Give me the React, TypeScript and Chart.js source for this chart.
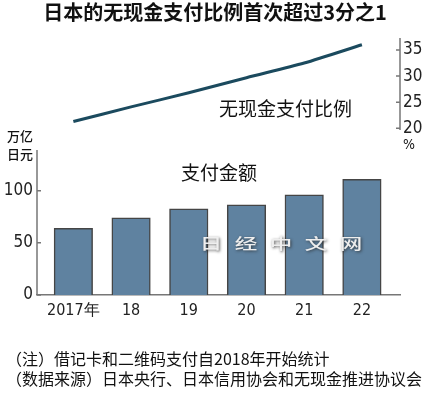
import React, { useEffect, useRef } from "react";
import { Chart, registerables } from "chart.js";

Chart.register(...registerables);

const categories = ["2017年", "18", "19", "20", "21", "22"];
const paymentAmount = [64, 74, 82.5, 86.5, 96, 111];
const cashlessRatio = [21.3, 24.1, 26.8, 29.7, 32.5, 36.0];
const leftTicks = [0, 50, 100];
const rightTicks = [20, 25, 30, 35];

const NARROW = '"Liberation Sans Narrow", "DejaVu Sans Condensed", "Liberation Sans", sans-serif';
const CJK = '"Noto Sans CJK SC", "Noto Sans", sans-serif';

const axisPlugin = {
  id: "customAxes",
  afterDatasetsDraw(chart: any) {
    const { ctx, chartArea } = chart;
    const yb = chart.scales.yBar;
    const yl = chart.scales.yLine;
    ctx.save();
    ctx.strokeStyle = "#777";
    ctx.lineWidth = 1.5;
    const lx = chartArea.left;
    ctx.beginPath();
    ctx.moveTo(lx, yb.getPixelForValue(0));
    ctx.lineTo(lx, yb.getPixelForValue(139));
    leftTicks.forEach((t) => {
      const py = yb.getPixelForValue(t);
      ctx.moveTo(lx, py);
      ctx.lineTo(lx + 4, py);
    });
    ctx.stroke();
    const rx = chartArea.right;
    ctx.beginPath();
    ctx.moveTo(rx, yl.getPixelForValue(19.7));
    ctx.lineTo(rx, yl.getPixelForValue(37.3));
    rightTicks.forEach((t) => {
      const py = yl.getPixelForValue(t);
      ctx.moveTo(rx, py);
      ctx.lineTo(rx - 4, py);
    });
    ctx.stroke();
    // watermark
    const chars = ["日", "经", "中", "文", "网"];
    ctx.font = "500 15px " + CJK;
    ctx.textAlign = "center";
    ctx.textBaseline = "middle";
    chars.forEach((c, i) => {
      const cx = 211 + i * 35;
      ctx.save();
      ctx.translate(cx, 243);
      ctx.scale(1.5, 1);
      ctx.shadowColor = "rgba(40,40,40,0.8)";
      ctx.shadowBlur = 3;
      ctx.shadowOffsetX = 1;
      ctx.shadowOffsetY = 1.5;
      ctx.fillStyle = "rgba(238,238,238,1)";
      ctx.fillText(c, 0, 0);
      ctx.restore();
    });
    ctx.restore();
  },
};

export default function App() {
  const ref = useRef<HTMLCanvasElement | null>(null);

  useEffect(() => {
    document.body.style.margin = "0";
    const canvas = ref.current;
    if (!canvas) return;
    const chart = new Chart(canvas, {
      type: "bar",
      data: {
        datasets: [
          {
            type: "line",
            label: "无现金支付比例",
            data: cashlessRatio.map((v, i) => ({ x: i, y: v })),
            yAxisID: "yLine",
            borderColor: "#1b4a5e",
            borderWidth: 3,
            pointRadius: 0,
            tension: 0.25,
            fill: false,
          } as any,
          {
            type: "bar",
            label: "支付金额",
            data: paymentAmount.map((v, i) => ({ x: i, y: v })),
            yAxisID: "yBar",
            backgroundColor: "#5f82a0",
            borderColor: "#454545",
            borderWidth: 1.5,
            barThickness: 38.5,
          } as any,
        ],
      },
      options: {
        animation: false,
        responsive: false,
        maintainAspectRatio: false,
        layout: { padding: { top: 38, left: 0, right: 0, bottom: 0 } },
        plugins: {
          legend: { display: false },
          tooltip: { enabled: false },
          title: { display: false },
        },
        scales: {
          x: {
            type: "linear",
            offset: false,
            min: -0.63,
            max: 5.66,
            grid: { display: false, drawTicks: false, offset: false },
            border: { display: true, color: "#777", width: 1.5 },
            afterBuildTicks: (s: any) => {
              s.ticks = categories.map((_, i) => ({ value: i }));
            },
            afterFit: (s: any) => {
              s.height = 103;
            },
            ticks: {
              autoSkip: false,
              maxRotation: 0,
              padding: 6,
              color: "#222",
              font: { family: NARROW, size: 16 },
              callback: (v: any) => categories[Math.round(Number(v))] ?? "",
            },
          },
          yBar: {
            type: "linear",
            position: "left",
            min: 0,
            max: 246.4,
            grid: { display: false, drawTicks: false },
            border: { display: false },
            afterBuildTicks: (s: any) => {
              s.ticks = leftTicks.map((v) => ({ value: v }));
            },
            afterFit: (s: any) => {
              s.width = 37;
            },
            ticks: {
              padding: 4,
              color: "#222",
              font: { family: NARROW, size: 17 },
            },
          },
          yLine: {
            type: "linear",
            position: "right",
            min: -11.93,
            max: 37.3,
            grid: { display: false, drawTicks: false },
            border: { display: false },
            afterBuildTicks: (s: any) => {
              s.ticks = rightTicks.map((v) => ({ value: v }));
            },
            afterFit: (s: any) => {
              s.width = 30;
            },
            ticks: {
              padding: 3,
              color: "#222",
              font: { family: NARROW, size: 17 },
            },
          },
        },
      },
      plugins: [axisPlugin],
    });
    return () => chart.destroy();
  }, []);

  const abs = (left: number, top: number, extra: React.CSSProperties = {}): React.CSSProperties => ({
    position: "absolute",
    left,
    top,
    fontFamily: CJK,
    color: "#111",
    whiteSpace: "nowrap",
    lineHeight: 1,
    ...extra,
  });

  return (
    <div style={{ position: "relative", width: 430, height: 398, background: "#fff", overflow: "hidden" }}>
      <canvas ref={ref} width={430} height={398} style={{ position: "absolute", left: 0, top: 0 }} />
      <div style={abs(0, 2, { width: 430, textAlign: "center", fontSize: 20, fontWeight: 700 })}>
        日本的无现金支付比例首次超过3分之1
      </div>
      <div style={abs(219, 98, { fontSize: 19 })}>无现金支付比例</div>
      <div style={abs(181, 162, { fontSize: 19 })}>支付金额</div>
      <div style={abs(7, 127, { fontSize: 13, fontWeight: 500, lineHeight: "18px" })}>
        万亿
        <br />
        日元
      </div>
      <div style={abs(403, 137, { fontSize: 14, fontFamily: NARROW })}>%</div>
      <div style={abs(6, 348, { fontSize: 16, lineHeight: "20px" })}>
        （注）借记卡和二维码支付自2018年开始统计
        <br />
        （数据来源）日本央行、日本信用协会和无现金推进协议会
      </div>
    </div>
  );
}
